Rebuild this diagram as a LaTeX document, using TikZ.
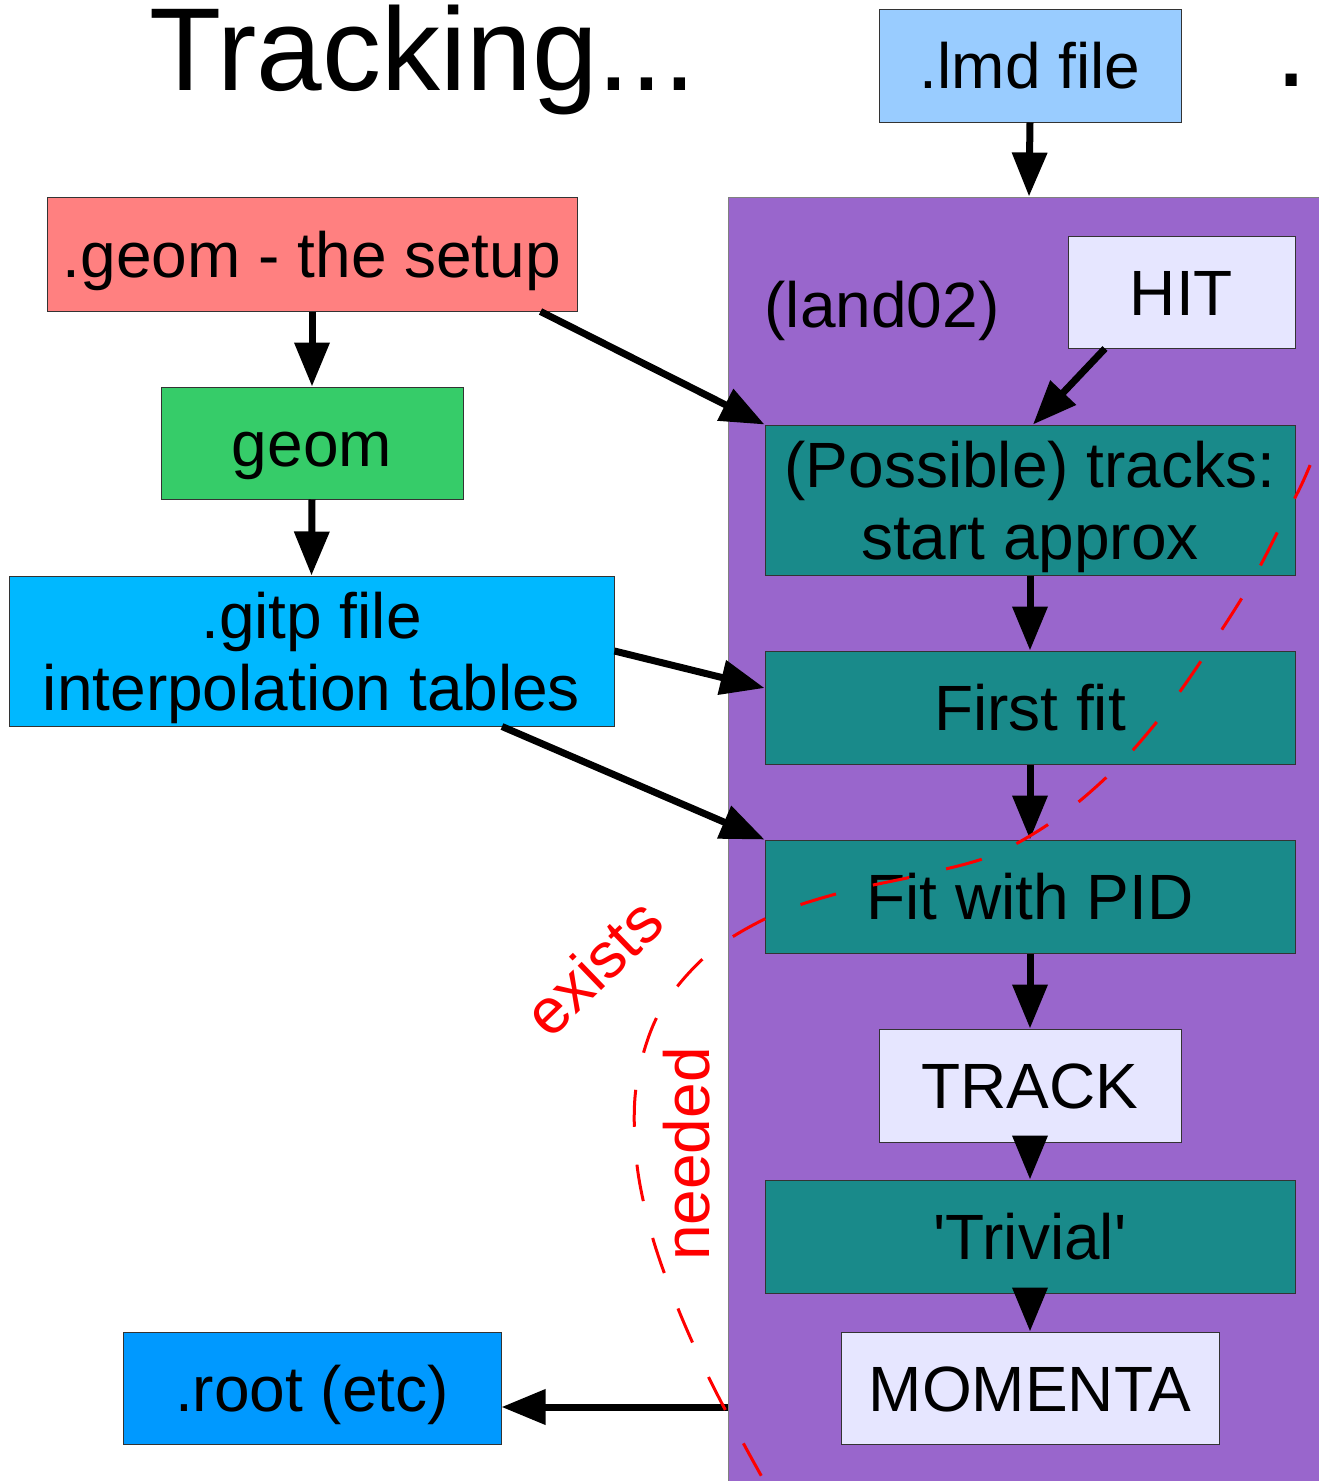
\documentclass[tikz,border=0pt]{standalone}
\usepackage{fontspec}
\setmainfont{Liberation Sans}
\usetikzlibrary{arrows.meta,calc}
\definecolor{lmdblue}{HTML}{99CCFF}
\definecolor{setupred}{HTML}{FF8080}
\definecolor{geomgreen}{HTML}{36CC69}
\definecolor{gitpblue}{HTML}{00B8FF}
\definecolor{rootblue}{HTML}{0099FF}
\definecolor{landpurple}{HTML}{9966CC}
\definecolor{stepteal}{HTML}{198A8A}
\definecolor{banklav}{HTML}{E6E6FF}
\definecolor{edgegrey}{HTML}{333333}
\tikzset{
  bigfont/.style={font=\fontsize{64}{72}\selectfont},
  box/.style={draw=edgegrey, line width=1pt, inner sep=0pt, bigfont,
              text height=46pt, text depth=0pt},
  twoline/.style={draw=edgegrey, line width=1pt, inner sep=0pt, bigfont, align=center,
              text height=118pt, text depth=0pt},
  stage/.style={box, fill=stepteal, minimum width=530pt, minimum height=113pt},
  bank/.style={box, fill=banklav},
  arr/.style={line width=7pt, -{Triangle[length=44pt,width=34pt]}},
  note/.style={text=red, bigfont}
}
\begin{document}
\begin{tikzpicture}[x=1pt,y=-1pt]
\useasboundingbox (0,0) rectangle (1319,1481);
\clip (0,0) rectangle (1319,1481);

% heading
\node[anchor=base, font=\fontsize{118}{130}\selectfont] (title) at (423,90) {Tracking...};
\node[anchor=base, font=\fontsize{116}{130}\selectfont] (dot) at (1292,86) {.};

% the land02 stage
\node[draw=gray, line width=1pt, fill=landpurple, inner sep=0pt,
      minimum width=602pt, minimum height=1298pt] (land) at (1029,846) {};
\node[bigfont, anchor=base] (landname) at (882,327) {(land02)};

% inputs and outputs
\node[box, fill=lmdblue, minimum width=302pt, minimum height=113pt] (lmd) at (1030,65.5) {.lmd file};
\node[box, fill=setupred, minimum width=530pt, minimum height=114pt] (setup) at (312,254) {.geom - the setup};
\node[box, fill=geomgreen, minimum width=302pt, minimum height=112pt] (geom) at (312,443) {geom};
\node[twoline, fill=gitpblue, minimum width=605pt, minimum height=150pt] (gitp) at (311.5,651) {.gitp file\\interpolation tables};
\node[box, fill=rootblue, minimum width=378pt, minimum height=112pt] (root) at (312,1388) {.root (etc)};

% steps inside land02
\node[bank, minimum width=227pt, minimum height=112pt] (hit) at (1181.5,292) {HIT};
\node[twoline, fill=stepteal, minimum width=530pt, minimum height=150pt] (poss) at (1030,500) {(Possible) tracks:\\start approx};
\node[stage] (first) at (1030,707.5) {First fit};
\node[stage] (pid) at (1030,896.5) {Fit with PID};
\node[bank, minimum width=302pt, minimum height=113pt] (track) at (1030,1085.5) {TRACK};
\node[stage] (trivial) at (1030,1236.5) {\textquotesingle Trivial\textquotesingle};
\node[bank, minimum width=378pt, minimum height=112pt] (momenta) at (1030,1388) {MOMENTA};

% data flow
\draw[arr] (lmd.south) -- (land.north);
\draw[arr] (setup.south) -- (geom.north);
\draw[arr] (geom.south) -- (gitp.north);
\draw[arr] ([xshift=-37pt]setup.south east) -- (poss.north west);
\draw[arr] ([xshift=-76.5pt]hit.south) -- ([xshift=3pt]poss.north);
\draw[arr] (poss.south) -- (first.north);
\draw[arr] (first.south) -- (pid.north);
\draw[arr] (gitp.east) -- ([yshift=19.5pt]first.west);
\draw[arr] ([xshift=190.5pt]gitp.south) -- (pid.north west);
\draw[arr] (pid.south) -- (track.north);
\draw[arr] (track.south) -- (trivial.north);
\draw[arr] (trivial.south) -- (momenta.north);
\coordinate (rootin) at ([yshift=-19pt]root.east);
\draw[arr] (rootin -| land.west) -- (rootin);

% boundary between what exists and what is needed
\draw[red, line width=3pt, dash pattern=on 37pt off 38pt, dash phase=10pt]
  plot[smooth, tension=0.55] coordinates {
    (1335,405) (1305,477) (1287,513) (1252,581) (1211,646) (1167,709)
    (1117,767) (1059,817) (993,855) (920,875) (843,892) (771,916)
    (706,956) (658,1015) (636,1088) (637,1165) (653,1239) (679,1311)
    (711,1382) (747,1450) (775,1500)};
\node[note, rotate=44] (exists) at (593,967) {exists};
\node[note, rotate=90] (needed) at (687,1154) {needed};
\end{tikzpicture}
\end{document}
